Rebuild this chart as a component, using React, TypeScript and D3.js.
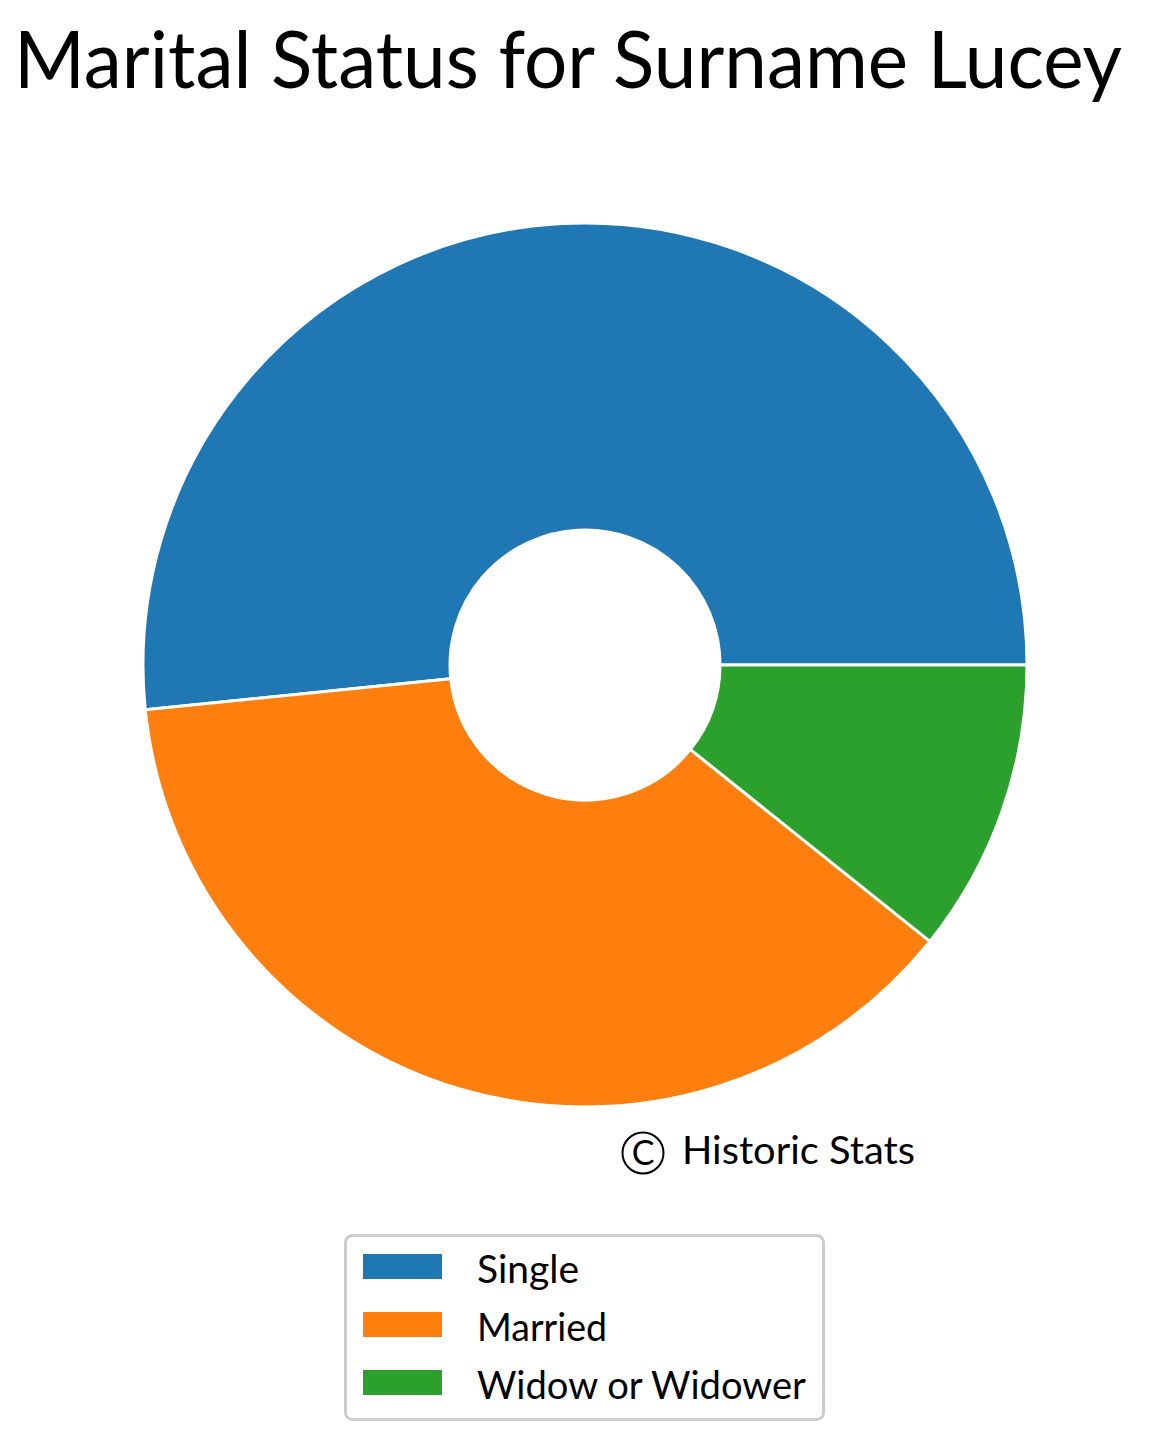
import React from "react";
import * as d3 from "d3";

const categories = ["Single", "Married", "Widow or Widower"];
const counts = [48, 35, 10];
const colors = ["#1f77b4", "#ff7f0e", "#2ca02c"];
const title = "Marital Status for Surname Lucey";
const credit = "Historic Stats";

const W = 1168;
const H = 1452;
const cx = 585;
const cy = 665;
const outerR = 442;
const innerR = 135;
const FONT = "Lato, 'Open Sans', sans-serif";

export default function App() {
  const pie = d3
    .pie<number>()
    .sort(null)
    .value((d) => d)
    .startAngle(Math.PI / 2)
    .endAngle(Math.PI / 2 - 2 * Math.PI);
  const arcs = pie(counts);
  const arc = d3
    .arc<d3.PieArcDatum<number>>()
    .innerRadius(innerR)
    .outerRadius(outerR);

  const legendTextLen = [102, 130, 329];

  return (
    <svg
      width={W}
      height={H}
      viewBox={`0 0 ${W} ${H}`}
      style={{ display: "block", position: "absolute", left: 0, top: 0, background: "#fff" }}
    >
      <rect width={W} height={H} fill="#fff" />
      {/* title: tall, condensed lettering */}
      <g transform="translate(14,88) scale(1,1.11)">
        <text
          x={0}
          y={0}
          fontFamily={FONT}
          fontSize={72}
          textLength={1108}
          lengthAdjust="spacingAndGlyphs"
          fill="#000"
        >
          {title}
        </text>
      </g>

      <g transform={`translate(${cx},${cy})`}>
        {arcs.map((a, i) => (
          <path
            key={categories[i]}
            d={arc(a) || ""}
            fill={colors[i]}
            stroke="#fff"
            strokeWidth={3}
            strokeLinejoin="round"
          />
        ))}
      </g>

      <g>
        <circle cx={643} cy={1153} r={20.5} fill="none" stroke="#000" strokeWidth={2} />
        <text
          x={643}
          y={1165}
          textAnchor="middle"
          fontFamily={FONT}
          fontSize={34}
          fill="#000"
        >
          C
        </text>
        <text
          x={682}
          y={1164}
          fontFamily={FONT}
          fontSize={39}
          textLength={233}
          lengthAdjust="spacingAndGlyphs"
          fill="#000"
        >
          {credit}
        </text>
      </g>

      <g>
        <rect
          x={345.5}
          y={1235.5}
          width={478}
          height={184}
          rx={7}
          fill="#fff"
          stroke="#cccccc"
          strokeWidth={3}
        />
        {categories.map((c, i) => (
          <g key={c}>
            <rect x={363} y={1254 + i * 58} width={79} height={25} fill={colors[i]} />
            <text
              x={477}
              y={1283 + i * 58}
              fontFamily={FONT}
              fontSize={38}
              textLength={legendTextLen[i]}
              lengthAdjust="spacingAndGlyphs"
              fill="#000"
            >
              {c}
            </text>
          </g>
        ))}
      </g>
    </svg>
  );
}
